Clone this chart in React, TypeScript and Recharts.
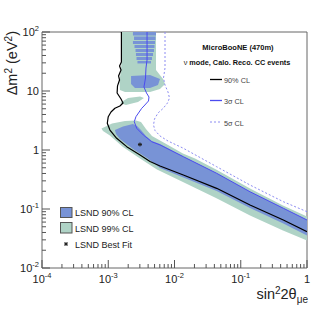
import React from "react";
import { ComposedChart, XAxis, YAxis, Scatter, ReferenceArea } from "recharts";

const FONT = "'Liberation Sans', Arial, Helvetica, sans-serif";
const GREEN = "#afd3c6";
const BLUE = "#7893d6";
const AXIS = "#555";

// tick values (log axes, ROOT style minor ticks)
const xTicks = [
  0.0001, 0.0002, 0.0003, 0.0004, 0.0005, 0.0006, 0.0007, 0.0008, 0.0009,
  0.001, 0.002, 0.003, 0.004, 0.005, 0.006, 0.007, 0.008, 0.009,
  0.01, 0.02, 0.03, 0.04, 0.05, 0.06, 0.07, 0.08, 0.09,
  0.1, 0.2, 0.3, 0.4, 0.5, 0.6, 0.7, 0.8, 0.9, 1,
];
const xMajor = [0.0001, 0.001, 0.01, 0.1, 1];
const xMajorLabels = [["10", "-4"], ["10", "-3"], ["10", "-2"], ["10", "-1"], ["1", ""]];

const yTicks = [
  0.01, 0.02, 0.03, 0.04, 0.05, 0.06, 0.07, 0.08, 0.09,
  0.1, 0.2, 0.3, 0.4, 0.5, 0.6, 0.7, 0.8, 0.9,
  1, 2, 3, 4, 5, 6, 7, 8, 9,
  10, 20, 30, 40, 50, 60, 70, 80, 90, 100,
];
const yMajor = [0.01, 0.1, 1, 10, 100];
const yMajorLabels = [["10", "-2"], ["10", "-1"], ["1", ""], ["10", ""], ["10", "2"]];

// MicroBooNE (470m) sensitivity contours: [sin^2 2theta, dm^2]
const cl90 = [
  [1.58e-3, 100], [1.58e-3, 31.0], [1.48e-3, 26.5], [1.56e-3, 22.7], [1.43e-3, 18.0],
  [1.48e-3, 15.4], [1.38e-3, 12.2], [1.36e-3, 9.25], [1.56e-3, 7.32], [1.67e-3, 6.26],
  [1.5e-3, 5.57], [1.26e-3, 5.09], [1.1e-3, 4.41], [1.0e-3, 3.67], [9.67e-4, 2.84],
  [1.06e-3, 2.18], [1.34e-3, 1.58], [1.9e-3, 1.14], [3.02e-3, 0.823], [4.27e-3, 0.638],
  [6.04e-3, 0.536], [1.36e-2, 0.377], [4.33e-2, 0.224], [0.138, 0.117], [0.439, 0.0651],
  [1, 0.0412],
];
const sigma3 = [
  [3.85e-3, 100], [3.85e-3, 33.5], [3.71e-3, 24.5], [3.65e-3, 16.6], [3.46e-3, 11.7],
  [3.78e-3, 9.25], [4.12e-3, 7.91], [4.05e-3, 6.77], [3.46e-3, 5.57], [3.2e-3, 5.09],
  [2.62e-3, 3.67], [2.47e-3, 3.02], [2.69e-3, 2.33], [3.38e-3, 1.8], [4.53e-3, 1.38],
  [6.04e-3, 1.22], [1.36e-2, 0.77], [4.33e-2, 0.403], [0.138, 0.196], [0.439, 0.103],
  [1, 0.0651],
];
const sigma5 = [
  [7.19e-3, 100], [7.19e-3, 24.5], [6.82e-3, 16.6], [7.19e-3, 12.6], [7.98e-3, 9.62],
  [8.4e-3, 7.61], [7.84e-3, 6.26], [6.71e-3, 5.05], [5.64e-3, 4.24], [4.99e-3, 3.35],
  [4.82e-3, 2.65], [5.08e-3, 2.14], [6.04e-3, 1.73], [7.98e-3, 1.42], [1.36e-2, 1.07],
  [4.33e-2, 0.521], [0.138, 0.255], [0.439, 0.133], [1, 0.09],
];

// LSND allowed regions (outlines)
const lsnd99Low = [
  [7.91e-4, 2.31], [1.14e-3, 2.81], [1.79e-3, 3.1], [2.62e-3, 3.16], [3.12e-3, 2.98],
  [3.71e-3, 2.27], [4.57e-3, 1.73], [6.04e-3, 1.45], [7.98e-3, 1.22], [1.34e-2, 0.872],
  [2.04e-2, 0.718], [4.38e-2, 0.458], [0.138, 0.223], [0.434, 0.115], [1, 0.0746],
  [1, 0.0292], [0.434, 0.0432], [0.138, 0.0776], [4.38e-2, 0.151], [1.34e-2, 0.287],
  [5.44e-3, 0.467], [3.02e-3, 0.718], [1.67e-3, 1.12], [1.06e-3, 1.76], [8.33e-4, 2.1],
];
const lsnd99Top = [
  [1.58e-3, 100], [5.26e-3, 100], [5.26e-3, 22.7], [6.71e-3, 16.0], [7.19e-3, 13.1],
  [6.04e-3, 10.8], [4.27e-3, 9.62], [1.79e-3, 9.62], [1.5e-3, 10.4], [1.48e-3, 15.4],
  [1.56e-3, 22.7], [1.58e-3, 31.0],
];
const lsnd99Island = [
  [1.5e-3, 6.26], [1.99e-3, 7.61], [3.02e-3, 8.07], [3.46e-3, 7.61], [2.81e-3, 6.51], [1.85e-3, 5.79],
];
const lsnd90Low = [
  [1.26e-3, 2.18], [1.67e-3, 2.5], [2.36e-3, 2.76], [2.72e-3, 2.55], [3.12e-3, 2.18],
  [3.71e-3, 1.73], [4.57e-3, 1.42], [6.04e-3, 1.26], [1.36e-2, 0.776], [4.33e-2, 0.403],
  [0.138, 0.196], [0.439, 0.103], [1, 0.0651], [1, 0.0356], [0.439, 0.0568],
  [0.138, 0.104], [4.33e-2, 0.202], [1.36e-2, 0.342], [6.04e-3, 0.495], [3.85e-3, 0.732],
  [2.36e-3, 1.04], [1.5e-3, 1.54], [1.31e-3, 1.87],
];
const lsnd90Blob = [
  [2.21e-3, 18.0], [4.27e-3, 18.7], [6.04e-3, 16.0], [5.64e-3, 12.6], [4.27e-3, 11.2],
  [2.53e-3, 11.2], [2.21e-3, 13.1],
];
// stripes of the 90% region at high dm^2: [xLeft, xRight, yTop, yBottom]
const lsnd90Stripes = [
  [2.36e-3, 5.26e-3, 100, 87.2],
  [2.45e-3, 5.17e-3, 83.9, 73.2],
  [2.36e-3, 5.08e-3, 70.4, 62.6],
  [2.49e-3, 4.99e-3, 60.2, 53.5],
  [2.58e-3, 4.9e-3, 51.5, 45.8],
  [2.62e-3, 4.74e-3, 44.1, 39.2],
  [2.67e-3, 4.57e-3, 37.7, 33.5],
  [2.76e-3, 4.42e-3, 32.3, 29.3],
];
const bestFit = [[3.01e-3, 1.24]];

const pts = (rows: number[][]) => rows.map(([x, y]) => ({ x, y }));
const stripePts = (s: number[]) =>
  pts([[s[0], s[2]], [s[1], s[2]], [s[1], s[3]], [s[0], s[3]]]);

const ptStr = (p: any) => (p.points || []).map((q: any) => `${q.x},${q.y}`).join(" ");
const polyFill = (fill: string) => (p: any) => <polygon points={ptStr(p)} fill={fill} stroke="none" />;
const polyLine = (stroke: string, width: number, dash?: string) => (p: any) => (
  <polyline
    points={ptStr(p)}
    fill="none"
    stroke={stroke}
    strokeWidth={width}
    strokeDasharray={dash}
    strokeLinejoin="round"
  />
);
const noDot = () => <g />;

const Star = ({ cx, cy }: { cx: number; cy: number }) => (
  <g stroke="#222" strokeWidth={1}>
    <line x1={cx - 2} x2={cx + 2} y1={cy} y2={cy} />
    <line x1={cx} x2={cx} y1={cy - 2} y2={cy + 2} />
    <line x1={cx - 1.5} x2={cx + 1.5} y1={cy - 1.5} y2={cy + 1.5} />
    <line x1={cx - 1.5} x2={cx + 1.5} y1={cy + 1.5} y2={cy - 1.5} />
  </g>
);

const findMajor = (list: number[], v: number) => list.findIndex((m) => Math.abs(v - m) < m * 1e-6);

const XTick = (p: any) => {
  const i = findMajor(xMajor, p.payload.value);
  return (
    <g>
      <line x1={p.x} x2={p.x} y1={p.y} y2={p.y - (i >= 0 ? 8 : 4)} stroke={AXIS} />
      {i >= 0 && (
        <text x={p.x} y={p.y + 15} textAnchor="middle" fontSize={11} fill="#222" fontFamily={FONT}>
          {xMajorLabels[i][0]}
          {xMajorLabels[i][1] && (
            <tspan dy={-5} fontSize={7.5}>
              {xMajorLabels[i][1]}
            </tspan>
          )}
        </text>
      )}
    </g>
  );
};

const YTick = (p: any) => {
  const i = findMajor(yMajor, p.payload.value);
  return (
    <g>
      <line x1={p.x} x2={p.x + (i >= 0 ? 8 : 4)} y1={p.y} y2={p.y} stroke={AXIS} />
      {i >= 0 && (
        <text x={p.x - 3} y={p.y + 4} textAnchor="end" fontSize={11} fill="#222" fontFamily={FONT}>
          {yMajorLabels[i][0]}
          {yMajorLabels[i][1] && (
            <tspan dy={-5} fontSize={7.5}>
              {yMajorLabels[i][1]}
            </tspan>
          )}
        </text>
      )}
    </g>
  );
};

export default function App() {
  return (
    <div style={{ position: "absolute", left: 0, top: 0, width: 324, height: 315, background: "#fff" }}>
      <ComposedChart width={324} height={315} margin={{ top: 32, right: 17, bottom: 0, left: 0 }}>
        <XAxis
          type="number"
          dataKey="x"
          scale="log"
          domain={[0.0001, 1]}
          allowDataOverflow
          ticks={xTicks}
          interval={0}
          tick={XTick}
          tickLine={false}
          axisLine={false}
          tickSize={0}
          tickMargin={0}
          height={47}
        />
        <YAxis
          type="number"
          dataKey="y"
          scale="log"
          domain={[0.01, 100]}
          allowDataOverflow
          ticks={yTicks}
          interval={0}
          tick={YTick}
          tickLine={false}
          axisLine={false}
          tickSize={0}
          tickMargin={0}
          width={42}
        />

        <Scatter data={pts(lsnd99Low)} dataKey="y" fill={GREEN} line={polyFill(GREEN)} shape={noDot} isAnimationActive={false} legendType="none" />
        <Scatter data={pts(lsnd99Top)} dataKey="y" fill={GREEN} line={polyFill(GREEN)} shape={noDot} isAnimationActive={false} legendType="none" />
        <Scatter data={pts(lsnd99Island)} dataKey="y" fill={GREEN} line={polyFill(GREEN)} shape={noDot} isAnimationActive={false} legendType="none" />
        <Scatter data={pts(lsnd90Low)} dataKey="y" fill={BLUE} line={polyFill(BLUE)} shape={noDot} isAnimationActive={false} legendType="none" />
        <Scatter data={pts(lsnd90Blob)} dataKey="y" fill={BLUE} line={polyFill(BLUE)} shape={noDot} isAnimationActive={false} legendType="none" />
        {lsnd90Stripes.map((s, i) => (
          <Scatter key={"st" + i} data={stripePts(s)} dataKey="y" fill={BLUE} line={polyFill(BLUE)} shape={noDot} isAnimationActive={false} legendType="none" />
        ))}

        <Scatter data={pts(sigma5)} dataKey="y" fill="#8c8cf2" line={polyLine("#8c8cf2", 1, "2 2")} shape={noDot} isAnimationActive={false} legendType="none" />
        <Scatter data={pts(sigma3)} dataKey="y" fill="#4b4bef" line={polyLine("#4b4bef", 1)} shape={noDot} isAnimationActive={false} legendType="none" />
        <Scatter data={pts(cl90)} dataKey="y" fill="#000" line={polyLine("#000", 1.2)} shape={noDot} isAnimationActive={false} legendType="none" />
        <Scatter data={pts(bestFit)} dataKey="y" fill="#222" shape={(p: any) => <Star cx={p.cx} cy={p.cy} />} isAnimationActive={false} legendType="none" />

        <ReferenceArea x1={0.0001} x2={1} y1={0.01} y2={100} fill="none" stroke="#666" strokeWidth={1} ifOverflow="visible" />

        {/* axis titles */}
        <text transform="translate(17,31) rotate(-90)" textAnchor="end" fontSize={14.5} fill="#222" fontFamily={FONT}>
          Δm<tspan dy={-5} fontSize={10}>2</tspan>
          <tspan dy={5}> (eV</tspan>
          <tspan dy={-5} fontSize={10}>2</tspan>
          <tspan dy={5}>)</tspan>
        </text>
        <text x={308} y={299} textAnchor="end" fontSize={14.5} fill="#222" fontFamily={FONT}>
          sin<tspan dy={-5} fontSize={10}>2</tspan>
          <tspan dy={5}>2θ</tspan>
          <tspan dy={4} fontSize={10}>μe</tspan>
        </text>

        {/* top-right legend */}
        <g fontFamily={FONT}>
          <text x={238} y={50} textAnchor="middle" fontSize={7.5} fontWeight="bold" fill="#111">
            MicroBooNE (470m)
          </text>
          <text x={237} y={65} textAnchor="middle" fontSize={7.3} fill="#111">
            ν <tspan fontWeight="bold">mode, Calo. Reco. CC events</tspan>
          </text>
          <line x1={210} x2={222} y1={79.5} y2={79.5} stroke="#000" strokeWidth={1.3} />
          <text x={224} y={83} fontSize={7.3} fill="#444">90% CL</text>
          <line x1={210} x2={222} y1={100.5} y2={100.5} stroke="#4b4bef" strokeWidth={1.3} />
          <text x={224} y={104} fontSize={7.3} fill="#444">3σ CL</text>
          <line x1={210} x2={222} y1={122} y2={122} stroke="#8c8cf2" strokeWidth={1} strokeDasharray="2 2" />
          <text x={224} y={125.5} fontSize={7.3} fill="#444">5σ CL</text>
        </g>

        {/* bottom-left legend */}
        <g fontFamily={FONT}>
          <rect x={60.5} y={207.5} width={11.5} height={10} fill={BLUE} stroke="#555" />
          <text x={75} y={216} fontSize={9} fill="#222">LSND 90% CL</text>
          <rect x={60.5} y={222.5} width={11.5} height={10.5} fill={GREEN} stroke="#555" />
          <text x={75} y={231.5} fontSize={9} fill="#222">LSND 99% CL</text>
          <Star cx={66} cy={244} />
          <text x={75} y={247.5} fontSize={9} fill="#222">LSND Best Fit</text>
        </g>
      </ComposedChart>
    </div>
  );
}
